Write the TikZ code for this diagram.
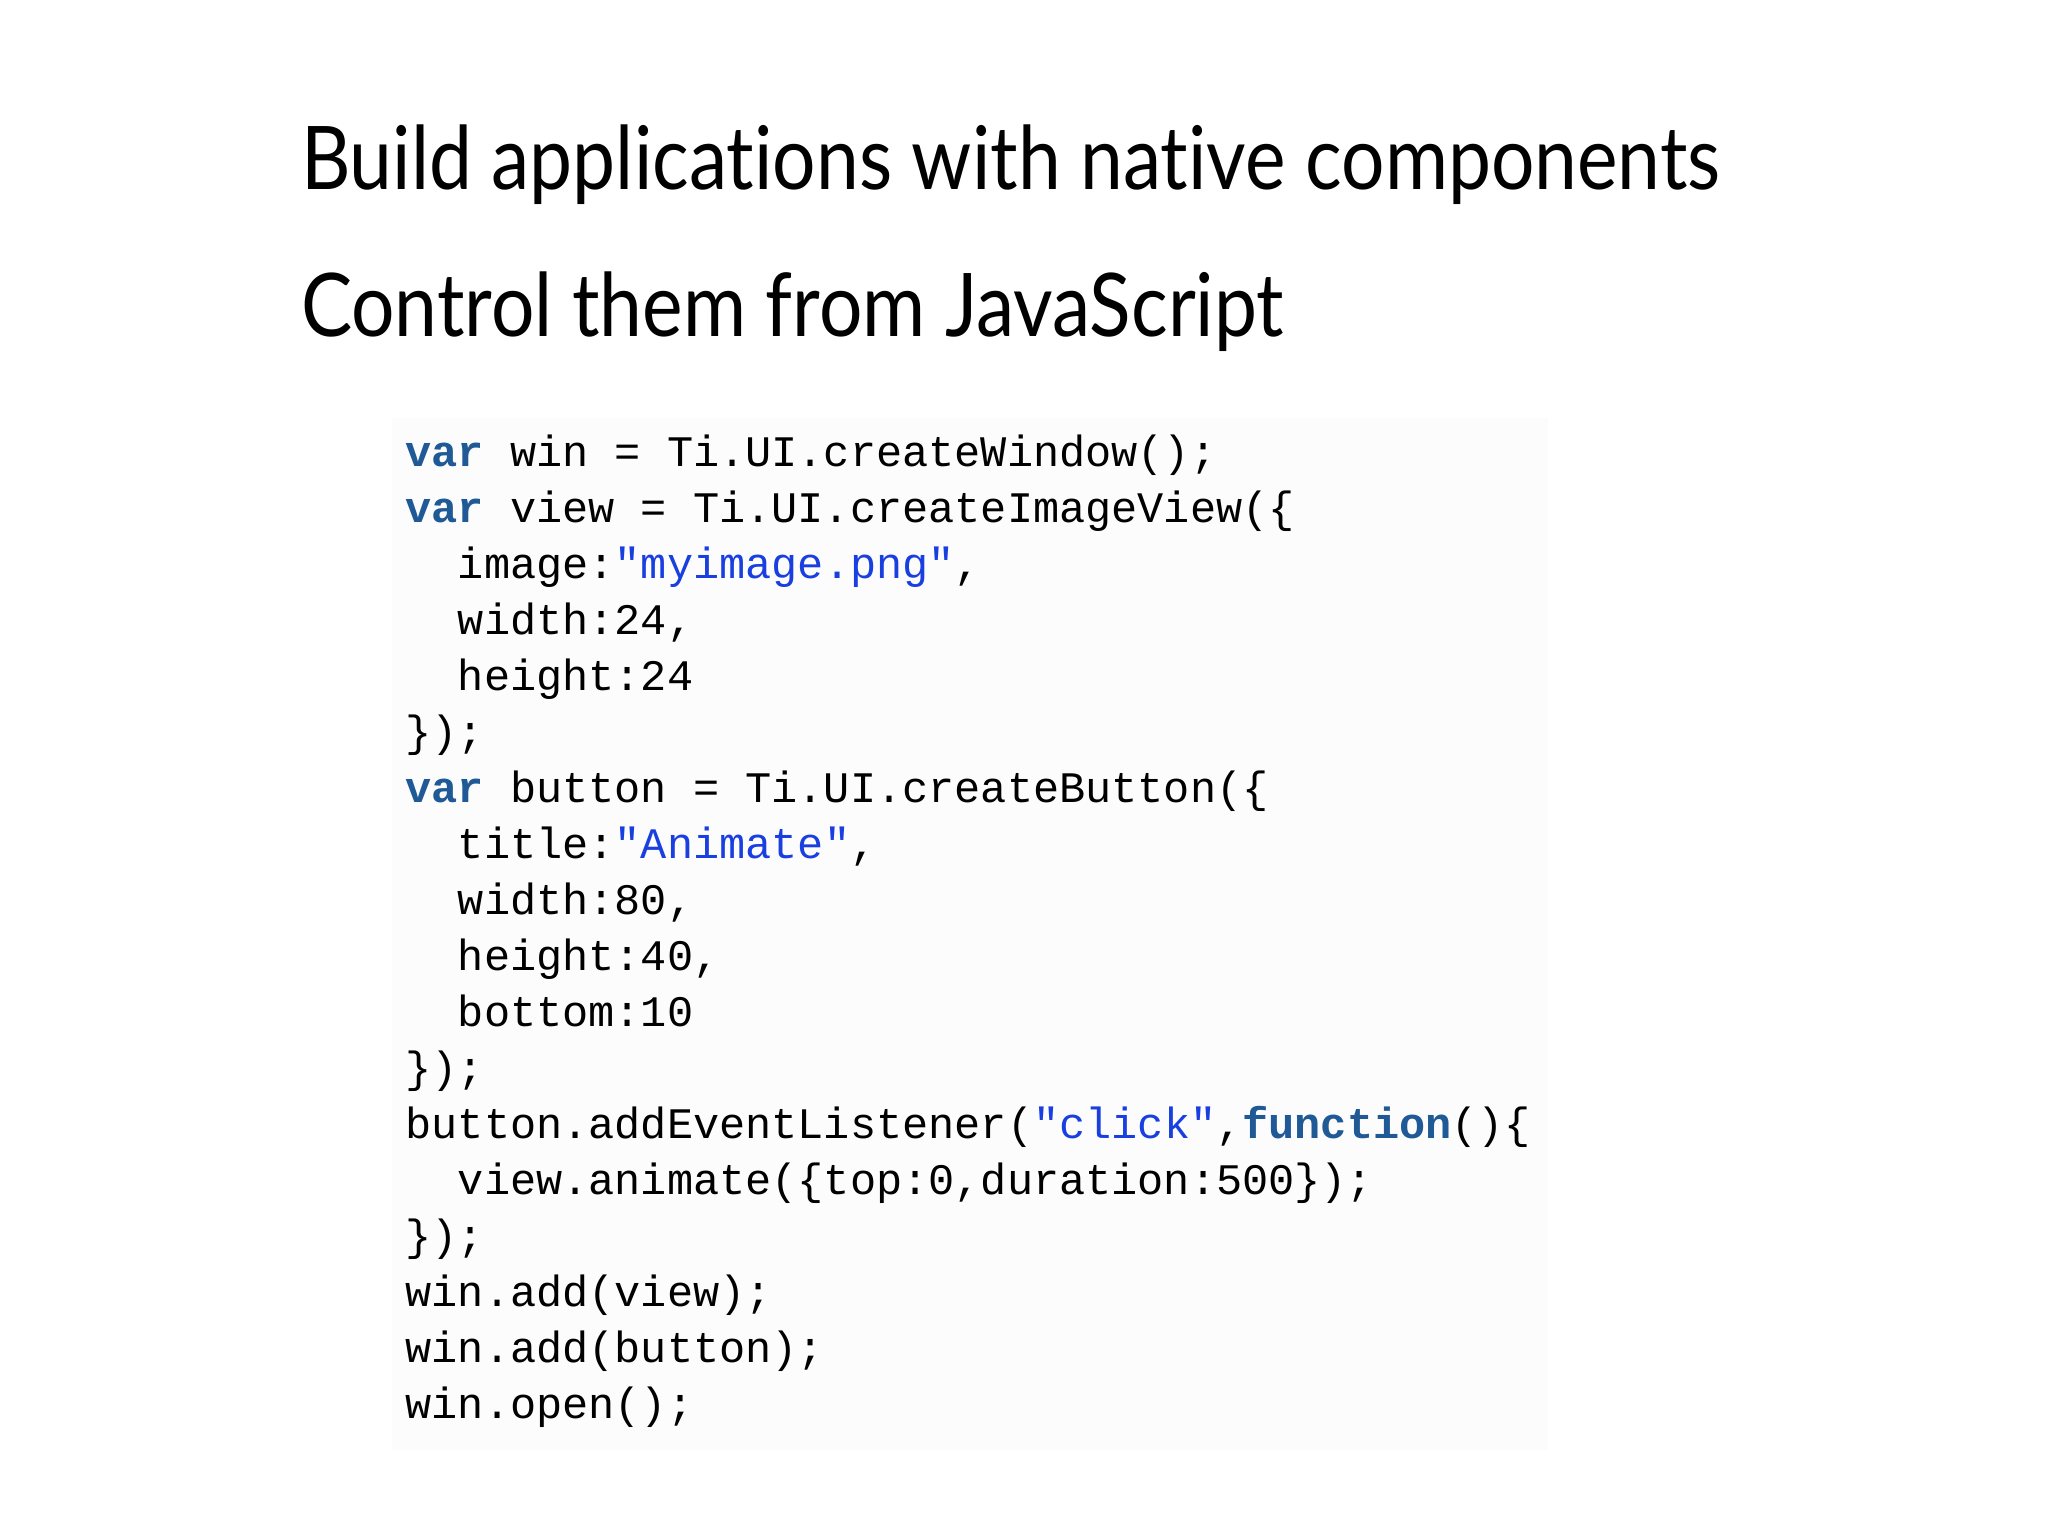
\documentclass[tikz,border=0pt]{standalone}
\usepackage{fontspec}
\setmainfont{Lato}[RawFeature={-liga;-dlig}]
\setmonofont{Liberation Mono}
\definecolor{kw}{HTML}{1F5A96}
\definecolor{str}{HTML}{1A3FE0}
\tikzset{ln/.style={anchor=base west,inner sep=0pt,font=\ttfamily\fontsize{12.4}{14}\selectfont},
ttl/.style={anchor=base west,inner sep=0pt,xscale=0.873,font=\fontsize{25}{30}\selectfont}}
\newcommand{\kwd}[1]{\textcolor{kw}{\bfseries #1}}
\newcommand{\strg}[1]{\textcolor{str}{#1}}
\begin{document}
\begin{tikzpicture}[x=0.013061cm,y=-0.013061cm]
\useasboundingbox (0,0) rectangle (1568,1176);
\fill[black!1] (300,320) rectangle (1185,1110);
\node[ttl] (t1) at (230,145) {Build applications with native components};
\node[ttl] (t2) at (230,258) {Control them from JavaScript};
\foreach \i/\t in {
0/{\kwd{var} win = Ti.UI.createWindow();},
1/{\kwd{var} view = Ti.UI.createImageView(\{},
2/{\ \ image:\strg{"myimage.png"},},
3/{\ \ width:24,},
4/{\ \ height:24},
5/{\});},
6/{\kwd{var} button = Ti.UI.createButton(\{},
7/{\ \ title:\strg{"Animate"},},
8/{\ \ width:80,},
9/{\ \ height:40,},
10/{\ \ bottom:10},
11/{\});},
12/{button.addEventListener(\strg{"click"},\kwd{function}()\{},
13/{\ \ view.animate(\{top:0,duration:500\});},
14/{\});},
15/{win.add(view);},
16/{win.add(button);},
17/{win.open();}}
{\node[ln] (c\i) at (310,{357+42.9*\i}) {\t};}
\end{tikzpicture}
\end{document}
